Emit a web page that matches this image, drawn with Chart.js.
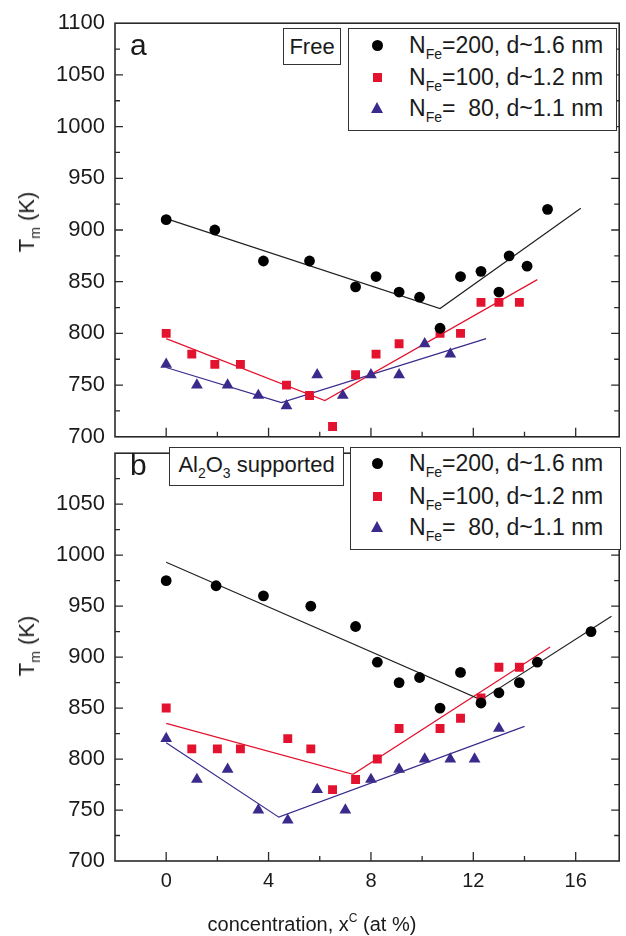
<!DOCTYPE html>
<html>
<head>
<meta charset="utf-8">
<script src="https://cdn.jsdelivr.net/npm/chart.js@4.4.1/dist/chart.umd.min.js"></script>
<style>
  body { margin: 0; background: #fff; }
  #wrap { position: relative; width: 626px; height: 936px; overflow: hidden; font-family: 'Liberation Sans', Arial, sans-serif; color: #1a1a1a; }
  canvas { position: absolute; left: 0; }
  .lab { position: absolute; white-space: pre; line-height: 1; }
  .box { position: absolute; border: 1px solid #333; box-sizing: border-box; background: #fff; }
  .leg { font-size: 23px; }
  .leg sub, .ttl sub { font-size: 14px; vertical-align: -6px; line-height: 0; }
  .ttl sup { font-size: 12px; vertical-align: 9px; line-height: 0; }
  .mk { position: absolute; }
  .circle { width: 11px; height: 11px; border-radius: 50%; margin: -5.5px 0 0 -5.5px; }
  .rect { width: 9px; height: 9px; margin: -4.5px 0 0 -4.5px; }
  .triangle { width: 0; height: 0; border-left: 6px solid transparent; border-right: 6px solid transparent; border-bottom: 11px solid; margin: -6.5px 0 0 -6px; }
</style>
</head>
<body>
<div id="wrap">
  <canvas id="top-chart" width="626" height="460" style="top:0"></canvas>
  <canvas id="bottom-chart" width="626" height="506" style="top:430px"></canvas>
</div>
<script>
'use strict';

// Data ********** //
const xMin = -2;
const xMax = 17.7;
const xTicks = [0, 4, 8, 12, 16];
const yMin = 700;
const yMax = 1100;

const seriesLabels = ['=200, d~1.6 nm', '=100, d~1.2 nm', '=  80, d~1.1 nm'];
const seriesColors = ['#000000', '#e3132f', '#3b2a8b'];
const seriesShapes = ['circle', 'rect', 'triangle'];

// panel a - free clusters
const freeX200 = [0, 1.9, 3.8, 5.6, 7.4, 8.2, 9.1, 9.9, 10.7, 11.5, 12.3, 13.0, 13.4, 14.1, 14.9];
const freeT200 = [910, 900, 870, 870, 845, 855, 840, 835, 805, 855, 860, 840, 875, 865, 920];
const freeX100 = [0, 1.0, 1.9, 2.9, 4.7, 5.6, 6.5, 7.4, 8.2, 9.1, 10.7, 11.5, 12.3, 13.0, 13.8];
const freeT100 = [800, 780, 770, 770, 750, 740, 710, 760, 780, 790, 800, 800, 830, 830, 830];
const freeX80 = [0, 1.2, 2.4, 3.6, 4.7, 5.9, 6.9, 8.0, 9.1, 10.1, 11.1];
const freeT80 = [770, 750, 750, 740, 730, 760, 740, 760, 760, 790, 780];

// fitted lines (start, kink, end)
const freeFitX200 = [0, 10.7, 16.2];
const freeFitT200 = [911, 824, 921];
const freeFitX100 = [0, 6.2, 14.5];
const freeFitT100 = [795, 735, 852];
const freeFitX80 = [0, 4.5, 12.5];
const freeFitT80 = [767, 733, 795];

// panel b - Al2O3 supported
const suppX200 = [0, 1.95, 3.8, 5.65, 7.4, 8.25, 9.1, 9.9, 10.7, 11.5, 12.3, 13.0, 13.8, 14.5, 16.6];
const suppT200 = [975, 970, 960, 950, 930, 895, 875, 880, 850, 885, 855, 865, 875, 895, 925];
const suppX100 = [0, 1.0, 2.0, 2.9, 4.75, 5.65, 6.5, 7.4, 8.25, 9.1, 10.7, 11.5, 12.3, 13.0, 13.8];
const suppT100 = [850, 810, 810, 810, 820, 810, 770, 780, 800, 830, 830, 840, 860, 890, 890];
const suppX80 = [0, 1.2, 2.4, 3.6, 4.75, 5.9, 7.0, 8.0, 9.1, 10.1, 11.1, 12.05, 13.0];
const suppT80 = [820, 780, 790, 750, 740, 770, 750, 780, 790, 800, 800, 800, 830];

const suppFitX200 = [0, 12.3, 17.4];
const suppFitT200 = [993, 858, 940];
const suppFitX100 = [0, 7.3, 15.0];
const suppFitT100 = [835, 785, 910];
const suppFitX80 = [0, 4.4, 14.0];
const suppFitT80 = [816, 743, 832];

const FONT = "'Liberation Sans', Arial, sans-serif";
const INK = '#1a1a1a';

// Helpers ********** //
function toPoints(xs, ys) {
  return xs.map((x, i) => ({ x: x, y: ys[i] }));
}

function makeDatasets(points, fits) {
  let sets = [];
  // markers first so they sit on top of the lines
  for (let i = 0; i < points.length; i++) {
    sets.push({
      data: toPoints(points[i][0], points[i][1]),
      pointStyle: seriesShapes[i],
      pointRadius: i === 0 ? 5.4 : (i === 1 ? 6.3 : 6.8),
      backgroundColor: seriesColors[i],
      borderColor: seriesColors[i],
      borderWidth: 0,
      showLine: false
    });
  }
  for (let i = 0; i < fits.length; i++) {
    sets.push({
      data: toPoints(fits[i][0], fits[i][1]),
      showLine: true,
      pointRadius: 0,
      borderColor: i === 0 ? '#222' : seriesColors[i],
      borderWidth: 1.2,
      fill: false
    });
  }
  return sets;
}

// frame + inward ticks like the origin plot
const framePlugin = {
  id: 'frame',
  afterDraw(chart) {
    const ctx = chart.ctx;
    const a = chart.chartArea;
    const x = chart.scales.x;
    const y = chart.scales.y;
    ctx.save();
    ctx.strokeStyle = '#2a2a2a';
    ctx.lineWidth = 1.6;
    ctx.strokeRect(a.left, a.top, a.right - a.left, a.bottom - a.top);
    ctx.lineWidth = 1.3;
    ctx.beginPath();
    for (let v = yMin + 25; v < yMax; v += 25) {
      let py = y.getPixelForValue(v);
      let len = v % 50 === 0 ? 8 : 5;
      ctx.moveTo(a.left, py); ctx.lineTo(a.left + len, py);
      ctx.moveTo(a.right, py); ctx.lineTo(a.right - len, py);
    }
    for (let v = 0; v <= 16; v += 2) {
      let px = x.getPixelForValue(v);
      let len = v % 4 === 0 ? 9 : 5;
      ctx.moveTo(px, a.bottom); ctx.lineTo(px, a.bottom - len);
    }
    ctx.stroke();
    ctx.restore();
  }
};

function buildChart(canvasId, datasets, padTop, xHeight, showX, hideTop) {
  return new Chart(document.getElementById(canvasId), {
    type: 'scatter',
    data: { datasets: datasets },
    options: {
      responsive: false,
      animation: false,
      layout: { padding: { top: padTop, right: 1, left: 0, bottom: 0 } },
      plugins: { legend: { display: false }, tooltip: { enabled: false } },
      scales: {
        x: {
          type: 'linear',
          min: xMin,
          max: xMax,
          grid: { display: false, drawTicks: false },
          border: { display: false },
          afterBuildTicks: s => { s.ticks = xTicks.map(v => ({ value: v })); },
          ticks: { display: showX, color: INK, font: { family: FONT, size: 20 }, padding: 8, maxRotation: 0, callback: v => String(v) },
          afterFit: s => { s.height = xHeight; }
        },
        y: {
          min: yMin,
          max: yMax,
          grid: { display: false, drawTicks: false },
          border: { display: false },
          ticks: {
            stepSize: 50,
            color: INK,
            font: { family: FONT, size: 22 },
            padding: 10,
            callback: v => (hideTop && v === yMax) ? '' : String(v)
          },
          afterFit: s => { s.width = 115; }
        }
      }
    },
    plugins: [framePlugin]
  });
}

// HTML labels / legends ********** //
let wrap = document.getElementById('wrap');

function addEl(cls, style, html) {
  let el = document.createElement('div');
  el.className = cls;
  el.style.cssText = style;
  if (html) el.innerHTML = html;
  wrap.appendChild(el);
  return el;
}

function addLegend(left, top, width, height, rows) {
  addEl('box', `left:${left}px;top:${top}px;width:${width}px;height:${height}px`);
  for (let i = 0; i < seriesLabels.length; i++) {
    let mk = addEl('mk ' + seriesShapes[i], `left:377px;top:${rows[i]}px`);
    if (seriesShapes[i] === 'triangle') mk.style.borderBottomColor = seriesColors[i];
    else mk.style.background = seriesColors[i];
    addEl('lab leg', `left:409px;top:${rows[i] - 11}px`, 'N<sub>Fe</sub>' + seriesLabels[i]);
  }
}

// Executable Code ********** //
buildChart('top-chart',
  makeDatasets(
    [[freeX200, freeT200], [freeX100, freeT100], [freeX80, freeT80]],
    [[freeFitX200, freeFitT200], [freeFitX100, freeFitT100], [freeFitX80, freeFitT80]]),
  23, 18, false, false);

buildChart('bottom-chart',
  makeDatasets(
    [[suppX200, suppT200], [suppX100, suppT100], [suppX80, suppT80]],
    [[suppFitX200, suppFitT200], [suppFitX100, suppFitT100], [suppFitX80, suppFitT80]]),
  12, 75, true, true);

// panel letters and boxes
addEl('lab', 'left:130px;top:30px;font-size:30px', 'a');
addEl('lab', 'left:130px;top:450px;font-size:30px', 'b');
addEl('box', 'left:283px;top:28px;width:58px;height:37px;display:flex;align-items:center;justify-content:center;font-size:22px', '<span>Free</span>');
addEl('box ttl', 'left:169px;top:447px;width:175px;height:39px;display:flex;align-items:center;justify-content:center;font-size:22px;padding-bottom:4px', '<span>Al<sub>2</sub>O<sub>3</sub> supported</span>');

addLegend(348, 28, 269, 103, [45, 77, 108]);
addLegend(350, 447, 271, 103, [463, 496, 527]);

// axis titles
addEl('lab ttl', 'left:27px;top:222px;font-size:22px;transform:translate(-50%,-50%) rotate(-90deg)', 'T<sub>m</sub> (K)');
addEl('lab ttl', 'left:27px;top:646px;font-size:22px;transform:translate(-50%,-50%) rotate(-90deg)', 'T<sub>m</sub> (K)');
addEl('lab ttl', 'left:312px;top:924px;font-size:20px;transform:translate(-50%,-50%)', 'concentration, x<sup>C</sup> (at %)');
</script>
</body>
</html>
